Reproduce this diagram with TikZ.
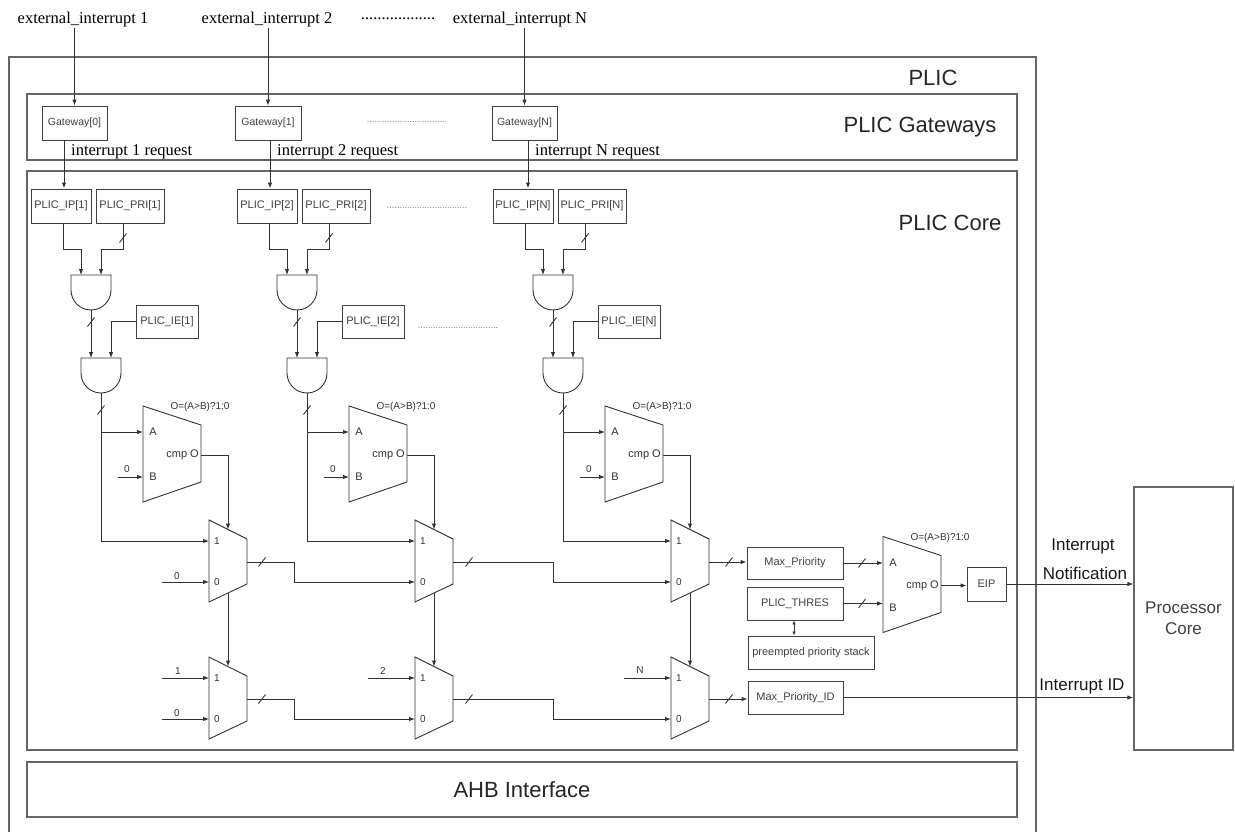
\documentclass[tikz,border=0pt]{standalone}
\usepackage{fontspec}
\setmainfont{Liberation Serif}
\setsansfont{Liberation Sans}
\usetikzlibrary{arrows.meta,calc}
\newcommand\fsz[1]{\fontsize{#1}{#1}\selectfont}
\newcommand\busmark[2]{\draw[wire] (#1-3.5,#2+4.5) -- (#1+3.5,#2-4.5);}
\begin{document}
\begin{tikzpicture}[x=1pt,y=-1pt,
  wire/.style={draw=black!80, line width=0.9pt},
  arr/.style={wire,-{Latex[length=6pt,width=4.5pt]}},
  dblarr/.style={wire,{Latex[length=4pt,width=3.5pt]}-{Latex[length=4pt,width=3.5pt]}},
  cont/.style={draw=black!60, line width=1.3pt, inner sep=0pt},
  sbox/.style={draw=black!75, line width=0.9pt, inner sep=0pt, font=\sffamily\fsz{11}, text=black!75},
  lbl/.style={inner sep=0pt, font=\sffamily\fsz{11}, text=black!80},
  mlbl/.style={inner sep=0pt, font=\sffamily\fsz{10}, text=black!80},
  big/.style={inner sep=0pt, font=\sffamily\fsz{22}, text=black!85},
  mid/.style={inner sep=0pt, font=\sffamily\fsz{17}, text=black!90},
  serif/.style={inner sep=0pt, font=\rmfamily\fsz{16.5}},
  gdots/.style={inner sep=0pt, font=\sffamily\fsz{9}, text=black!55},
  gate/.style={draw=black!80, line width=0.9pt, fill=white},
  andg/.pic={
    \draw[gate] (-20,0) -- (20,0) -- (20,15) arc[start angle=0,end angle=180,radius=20] -- cycle;
    \coordinate (-in1) at (-10,0);
    \coordinate (-in2) at (10,0);
    \coordinate (-out) at (0,35);
  },
  cmpg/.pic={
    \draw[gate] (0,-48) -- (58,-29) -- (58,28) -- (0,48) -- cycle;
    \coordinate (-A) at (0,-22);
    \coordinate (-B) at (0,23);
    \coordinate (-O) at (58,1);
    \node[lbl] (-la) at (10,-22) {A};
    \node[lbl] (-lb) at (10,23) {B};
    \node[lbl, anchor=east] (-lo) at (56,1) {cmp O};
    \node[mlbl] (-lf) at (57,-47) {O=(A>B)?1:0};
  },
  muxg/.pic={
    \draw[gate] (0,-41) -- (38,-22) -- (38,23) -- (0,41) -- cycle;
    \coordinate (-in1) at (0,-20);
    \coordinate (-in0) at (0,21);
    \coordinate (-out) at (38,1);
    \coordinate (-top) at (19,-31.5);
    \coordinate (-bot) at (19,31.5);
    \node[mlbl] (-l1) at (8,-20) {1};
    \node[mlbl] (-l0) at (8,21) {0};
  }
]
\useasboundingbox (0,0) rectangle (1235,832);

% containers
\node[cont, minimum width=1027, minimum height=843] (plicbox) at (522.5,478.5) {};
\node[big] (pliclbl) at (933,78) {PLIC};
\node[cont, minimum width=990, minimum height=66] (gwbox) at (522,127) {};
\node[big] (gwlbl) at (920,127) {PLIC Gateways};
\node[cont, minimum width=990, minimum height=579] (corebox) at (522,460.5) {};
\node[big] (corelbl) at (950,223) {PLIC Core};
\node[cont, minimum width=990, minimum height=55, font=\sffamily\fsz{22}, text=black!85] (ahb) at (522,789.5) {AHB Interface};
\node[cont, minimum width=99, minimum height=263, font=\sffamily\fsz{17}, text=black!75, align=center] (proc) at (1183.5,618.5) {Processor\\[4pt]Core};

% external interrupts
\node[serif] (e1) at (83,20) {external\_interrupt 1};
\node[serif] (e2) at (267,20) {external\_interrupt 2};
\node[serif] (edots) at (398,19) {..................};
\node[serif] (eN) at (520,20) {external\_interrupt N};

\node[sbox, minimum width=65, minimum height=34, font=\sffamily\fsz{10.5}] (gw0) at (74.5,123) {Gateway[0]};
\node[sbox, minimum width=66, minimum height=34, font=\sffamily\fsz{10.5}] (gw1) at (268,123) {Gateway[1]};
\node[sbox, minimum width=65, minimum height=34, font=\sffamily\fsz{10.5}] (gwN) at (524.5,123) {Gateway[N]};
\node[gdots] (gwdots) at (407,122) {................................};

\draw[arr] (gw0.north |- e1.south) -- (gw0.north);
\draw[arr] (gw1.north |- e2.south) -- (gw1.north);
\draw[arr] (gwN.north |- eN.south) -- (gwN.north);

\node[serif, anchor=west] (r1) at (71,152) {interrupt 1 request};
\node[serif, anchor=west] (r2) at (277,152) {interrupt 2 request};
\node[serif, anchor=west] (rN) at (535,152) {interrupt N request};

% columns
\foreach \dx/\n/\k in {0/1/a,206/2/b,462/N/c}{
  \node[sbox, minimum width=60, minimum height=34] (ip\k) at (61+\dx,206) {PLIC\_IP[\n]};
  \node[sbox, minimum width=68, minimum height=34] (pri\k) at (130+\dx,206) {PLIC\_PRI[\n]};
  \pic (anda\k) at (91+\dx,275) {andg};
  \pic (andb\k) at (101+\dx,358) {andg};
  \node[sbox, minimum width=62, minimum height=33] (ie\k) at (167+\dx,321.5) {PLIC\_IE[\n]};
  \pic (cmp\k) at (143+\dx,454) {cmpg};
  \pic (muxa\k) at (209+\dx,561) {muxg};
  \pic (muxb\k) at (209+\dx,698) {muxg};
  \draw[arr] ([xshift=2pt]ip\k.south) -- ++(0,26) -| (anda\k-in1);
  \draw[arr] ([xshift=-7pt]pri\k.south) -- ++(0,26) -| (anda\k-in2);
  \draw[arr] (anda\k-out) -- (andb\k-in1);
  \draw[arr] (ie\k.west) -| (andb\k-in2);
  \draw[arr] (andb\k-out) |- (muxa\k-in1);
  \draw[arr] (andb\k-out |- cmp\k-A) -- (cmp\k-A);
  \draw[arr] (cmp\k-O) -| (muxa\k-top);
  \draw[arr] (muxa\k-bot) -- (muxb\k-top);
  \coordinate (cz\k) at (118+\dx,477);
  \draw[arr] (cz\k) -- (cmp\k-B);
  \node[mlbl] (czl\k) at (127+\dx,469) {0};
  \busmark{123+\dx}{238}
  \busmark{91+\dx}{322}
  \busmark{101+\dx}{410}
}

\draw[arr] ([xshift=-10.5pt]gw0.south) -- ([xshift=-10.5pt]gw0.south |- ipa.north);
\draw[arr] ([xshift=2pt]gw1.south) -- ([xshift=2pt]gw1.south |- ipb.north);
\draw[arr] ([xshift=3.5pt]gwN.south) -- ([xshift=3.5pt]gwN.south |- ipc.north);

\node[gdots] (ipdots) at (427,208) {................................};
\node[gdots] (iedots) at (458,328) {................................};

% constants into muxes
\coordinate (k0a) at (162,582);
\draw[arr] (k0a) -- (muxaa-in0);
\node[mlbl] (k0al) at (177,576) {0};
\coordinate (k1b) at (162,678);
\draw[arr] (k1b) -- (muxba-in1);
\node[mlbl] (k1bl) at (178,671) {1};
\coordinate (k0b) at (162,719);
\draw[arr] (k0b) -- (muxba-in0);
\node[mlbl] (k0bl) at (177,713) {0};
\coordinate (k2) at (368,678);
\draw[arr] (k2) -- (muxbb-in1);
\node[mlbl] (k2l) at (383,671) {2};
\coordinate (kN) at (624,678);
\draw[arr] (kN) -- (muxbc-in1);
\node[mlbl] (kNl) at (640,670) {N};

% chains
\draw[arr] (muxaa-out) -- ++(47,0) |- (muxab-in0);
\draw[arr] (muxab-out) -- ++(100,0) |- (muxac-in0);
\draw[arr] (muxba-out) -- ++(47,0) |- (muxbb-in0);
\draw[arr] (muxbb-out) -- ++(100,0) |- (muxbc-in0);
\busmark{262}{562}
\busmark{469}{562}
\busmark{262}{699}
\busmark{469}{699}

% right part
\node[sbox, minimum width=96, minimum height=32] (mp) at (795,563) {Max\_Priority};
\node[sbox, minimum width=96, minimum height=33] (thres) at (795,603.5) {PLIC\_THRES};
\node[sbox, minimum width=126, minimum height=33] (stack) at (811,652.5) {preempted priority stack};
\node[sbox, minimum width=95, minimum height=33] (mpid) at (795.5,697.5) {Max\_Priority\_ID};
\node[sbox, minimum width=39, minimum height=34] (eip) at (986.5,584) {EIP};
\pic (cmpd) at (883,584.5) {cmpg};

\draw[arr] (muxac-out) -- (muxac-out -| mp.west);
\draw[arr] (muxbc-out) -- (muxbc-out -| mpid.west);
\busmark{729}{562}
\busmark{729}{699}
\draw[arr] (mp.east) -- (mp.east -| cmpd-A);
\draw[arr] (thres.east) -- (thres.east -| cmpd-A);
\busmark{862}{563}
\busmark{862}{603.5}
\draw[dblarr] ([xshift=-1pt]thres.south) -- ([xshift=-1pt]thres.south |- stack.north);
\draw[arr] (cmpd-O) -- (cmpd-O -| eip.west);
\draw[arr] (eip.east) -- (eip.east -| proc.west);
\draw[arr] (mpid.east) -- (mpid.east -| proc.west);
\node[mid] (intl) at (1083,546) {Interrupt};
\node[mid] (notl) at (1085,573) {Notification};
\node[mid] (idl) at (1082,686) {Interrupt ID};
\end{tikzpicture}
\end{document}
